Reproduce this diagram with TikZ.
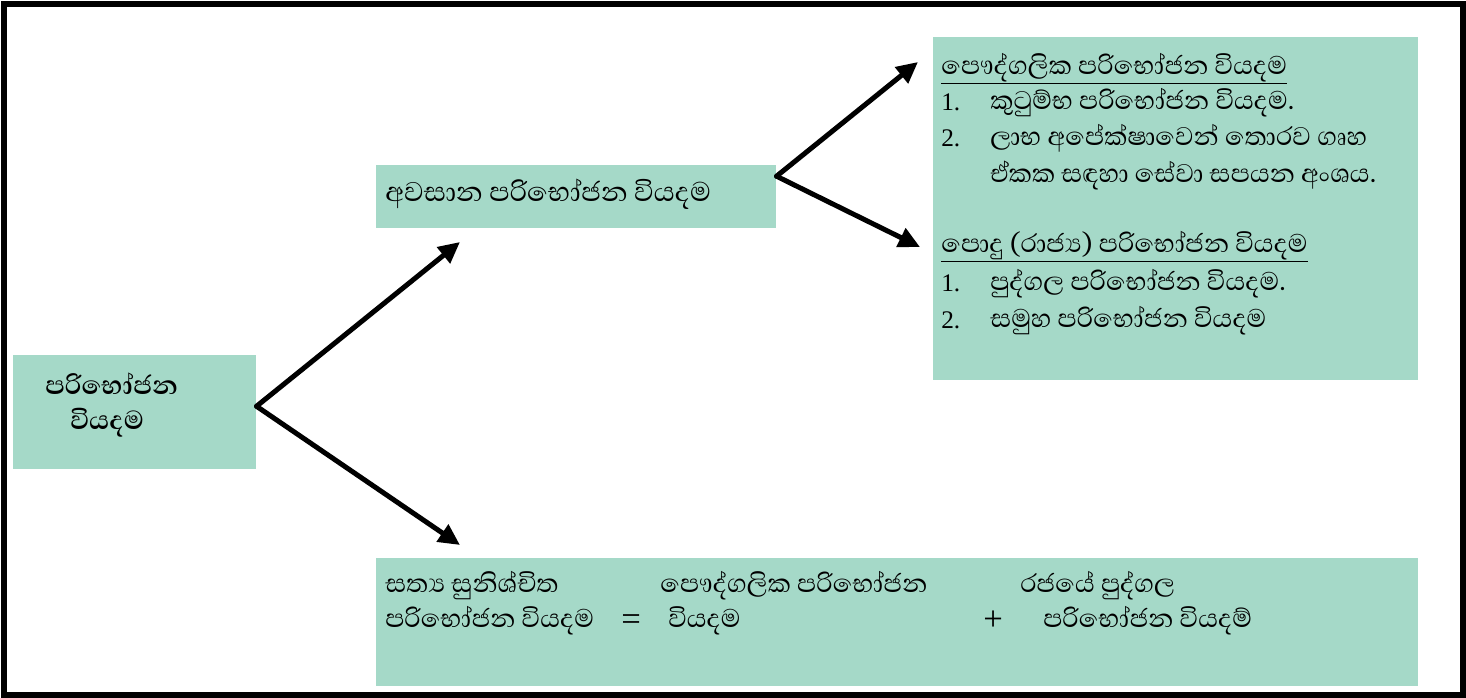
\documentclass[tikz,border=0pt]{standalone}
\usepackage{fontspec}
\setmainfont{Liberation Serif}
\newfontfamily\sinhala[Script=Sinhala]{Abhaya Libre}
\usetikzlibrary{arrows.meta}
\definecolor{boxgreen}{RGB}{165,217,200}
\tikzset{
  box/.style={fill=boxgreen, anchor=north west, inner sep=0pt},
  sintxt/.style={anchor=west, inner sep=0pt, text height=14pt, text depth=3pt,
    font=\sinhala\fontsize{24.5}{28}\selectfont},
  bigtxt/.style={sintxt, text height=15pt, font=\sinhala\fontsize{26}{30}\selectfont},
  numtxt/.style={sintxt, text height=15.6pt, font=\fontsize{19}{22}\selectfont},
  optxt/.style={numtxt, text height=18pt, font=\fontsize{26}{30}\selectfont},
  arr/.style={line width=3.75pt, line cap=round, -{Triangle[length=16pt,width=15pt]}}
}
\begin{document}
\begin{tikzpicture}[x=0.75pt,y=-0.75pt]
\useasboundingbox (0,0) rectangle (1466,698);
\draw[line width=4.5pt] (4,4) rectangle (1463,695);

% boxes
\node[box, minimum width=182.25pt, minimum height=85.5pt] (cons) at (13,355) {};
\node[box, minimum width=300pt, minimum height=47.25pt] (final) at (376,165) {};
\node[box, minimum width=363.75pt, minimum height=257.25pt] (types) at (933,37) {};
\node[box, minimum width=781.5pt, minimum height=96pt] (actual) at (376,558) {};

% arrows
\coordinate (tofinal) at (460,242);
\coordinate (toactual) at (460,545);
\coordinate (topriv) at (918,62);
\coordinate (topub) at (920,247);
\draw[arr] ([yshift=4.5pt]cons.east) -- (tofinal);
\draw[arr] ([yshift=4.5pt]cons.east) -- (toactual);
\draw[arr] ([yshift=15.4pt]final.east) -- (topriv);
\draw[arr] ([yshift=15.4pt]final.east) -- (topub);

% left box
\node[bigtxt, font=\sinhala\bfseries\fontsize{25}{30}\selectfont] (consa) at (45,386) {පරිභෝජන};
\node[bigtxt, font=\sinhala\bfseries\fontsize{25}{30}\selectfont] (consb) at (70,421) {වියදම};

% middle box
\node[bigtxt] (finala) at (385,194) {අවසාන පරිභෝජන වියදම};

% top right box
\node[sintxt] (priv) at (941,67) {\underline{පෞද්ගලික පරිභෝජන වියදම}};
\node[numtxt] (privn1) at (941,102) {1.};
\node[sintxt] (priv1) at (990,102) {කුටුම්භ පරිභෝජන වියදම.};
\node[numtxt] (privn2) at (941,138) {2.};
\node[sintxt] (priv2) at (990,138) {ලාභ අපේක්ෂාවෙන් තොරව ගෘහ};
\node[sintxt] (priv3) at (990,175) {ඒකක සඳහා සේවා සපයන අංශය.};
\node[sintxt] (pub) at (941,245) {\underline{පොදු (රාජ්^^^^200dය) පරිභෝජන වියදම}};
\node[numtxt] (pubn1) at (941,283) {1.};
\node[sintxt] (pub1) at (990,283) {පුද්ගල පරිභෝජන වියදම.};
\node[numtxt] (pubn2) at (941,320) {2.};
\node[sintxt] (pub2) at (990,320) {සමුහ පරිභෝජන වියදම};

% bottom box
\node[sintxt] (acta) at (385,585) {සත්^^^^200dය සුනිශ්චිත};
\node[sintxt] (actb) at (385,620) {පරිභෝජන වියදම};
\node[optxt] (eq) at (621,620) {=};
\node[sintxt] (priva) at (660,585) {පෞද්ගලික පරිභෝජන};
\node[sintxt] (privb) at (668,620) {වියදම};
\node[optxt] (plus) at (983,620) {+};
\node[sintxt] (gova) at (1020,585) {රජයේ පුද්ගල};
\node[sintxt] (govb) at (1043,620) {පරිභෝජන වියදම්};
\end{tikzpicture}
\end{document}
